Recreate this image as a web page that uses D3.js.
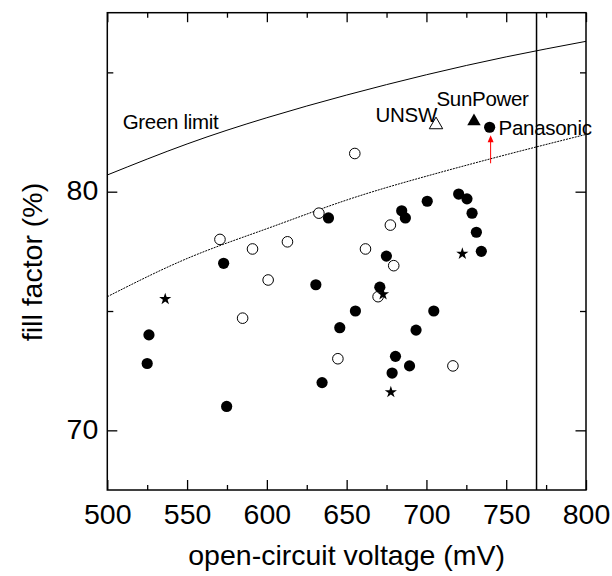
<!DOCTYPE html>
<html>
<head>
<meta charset="utf-8">
<script src="https://cdn.jsdelivr.net/npm/d3@7"></script>
<style>
  html, body { margin: 0; padding: 0; background: #fff; }
  svg { display: block; font-family: "Liberation Sans", Arial, sans-serif; }
</style>
</head>
<body>
<svg id="chart" width="612" height="576"></svg>
<script>
// Open-circuit voltage (mV) and fill factor (%) of silicon cells
const filledVoc = [526.1, 525.0, 572.9, 574.8, 630.7, 634.6, 638.6, 645.7, 655.5, 670.8, 674.9, 678.5,
                   680.6, 684.5, 686.8, 689.4, 693.5, 700.5, 704.6, 720.2, 725.4, 728.6, 731.3, 734.4];
const filledFF  = [74.0, 72.8, 77.0, 71.0, 76.1, 72.0, 78.9, 74.3, 75.0, 76.0, 77.3, 72.4,
                   73.1, 79.2, 78.9, 72.7, 74.2, 79.6, 75.0, 79.9, 79.7, 79.1, 78.3, 77.5];

const openVoc = [570.6, 584.8, 591.0, 600.8, 612.9, 632.6, 644.5, 655.1, 661.8, 669.7, 677.4, 679.5, 716.6];
const openFF  = [78.0, 74.7, 77.6, 76.3, 77.9, 79.1, 73.0, 81.6, 77.6, 75.6, 78.6, 76.9, 72.7];

const starVoc = [536.3, 672.8, 677.7, 722.5];
const starFF  = [75.5, 75.7, 71.6, 77.4];

// Record devices
const recordNames = ["UNSW", "SunPower", "Panasonic"];
const recordVoc   = [706.0, 729.8, 739.6];
const recordFF    = [82.8, 82.95, 82.7];

// Green's empirical limit and the lower reference curve
const curveVoc = [500, 550, 600, 650, 700, 750, 800];
const greenFF  = [80.7, 82.0, 83.1, 84.05, 84.9, 85.65, 86.3];
const lowerFF  = [75.6, 77.2, 78.45, 79.65, 80.65, 81.55, 82.4];

// Intrinsic Voc limit
const limitVoc = 769;

// Improvement arrow below Panasonic point (fill factor from -> to)
const arrowFF = [81.19, 82.36];

// Axis ticks
const xMajor = [500, 550, 600, 650, 700, 750, 800];
const xMinor = [525, 575, 625, 675, 725, 775];
const yMajor = [70, 80];
const yMinor = [75, 85];

const svg = d3.select("#chart");
const L = 107.3, R = 586, T = 12.7, B = 490;

const x = d3.scaleLinear().domain([500, 800]).range([L, R]);
const y = d3.scaleLinear().domain([67.5, 87.5]).range([B, T]);

const fontTick = 28.5;

// Curves
const line = d3.line().x(d => x(d[0])).y(d => y(d[1])).curve(d3.curveNatural);
svg.append("path")
  .attr("d", line(curveVoc.map((v, i) => [v, greenFF[i]])))
  .attr("fill", "none").attr("stroke", "#000").attr("stroke-width", 1);
svg.append("path")
  .attr("d", line(curveVoc.map((v, i) => [v, lowerFF[i]])))
  .attr("fill", "none").attr("stroke", "#000").attr("stroke-width", 1)
  .attr("stroke-dasharray", "2,1");

// Vertical limit line
svg.append("line")
  .attr("x1", x(limitVoc)).attr("x2", x(limitVoc))
  .attr("y1", T).attr("y2", B)
  .attr("stroke", "#000").attr("stroke-width", 1.5);

// Markers
svg.append("g").selectAll("circle").data(openVoc).join("circle")
  .attr("cx", d => x(d)).attr("cy", (d, i) => y(openFF[i])).attr("r", 5.3)
  .attr("fill", "#fff").attr("stroke", "#000").attr("stroke-width", 1);

svg.append("g").selectAll("circle").data(filledVoc).join("circle")
  .attr("cx", d => x(d)).attr("cy", (d, i) => y(filledFF[i])).attr("r", 5.6)
  .attr("fill", "#000");

const star = d3.symbol().type(d3.symbolStar).size(46);
svg.append("g").selectAll("path").data(starVoc).join("path")
  .attr("d", star)
  .attr("transform", (d, i) => `translate(${x(d)},${y(starFF[i])})`)
  .attr("fill", "#000");

const tri = d3.symbol().type(d3.symbolTriangle).size(78);
// UNSW: open triangle
svg.append("path").attr("d", tri)
  .attr("transform", `translate(${x(recordVoc[0])},${y(recordFF[0])})`)
  .attr("fill", "#fff").attr("stroke", "#000").attr("stroke-width", 1);
// SunPower: filled triangle
svg.append("path").attr("d", tri)
  .attr("transform", `translate(${x(recordVoc[1])},${y(recordFF[1])})`)
  .attr("fill", "#000");
// Panasonic: filled circle
svg.append("circle")
  .attr("cx", x(recordVoc[2])).attr("cy", y(recordFF[2])).attr("r", 5.6)
  .attr("fill", "#000");

// Red arrow
const ax = x(recordVoc[2]) + 1;
const yTail = y(arrowFF[0]), yTip = y(arrowFF[1]);
svg.append("line")
  .attr("x1", ax).attr("x2", ax).attr("y1", yTail).attr("y2", yTip + 6)
  .attr("stroke", "#ff0000").attr("stroke-width", 1);
svg.append("path")
  .attr("d", `M${ax},${yTip} L${ax - 3},${yTip + 7} L${ax + 3},${yTip + 7} Z`)
  .attr("fill", "#ff0000");

// Annotations
const fontLab = 20.5;
svg.append("text").attr("x", 122.7).attr("y", 129.3)
  .attr("font-size", fontLab).attr("letter-spacing", -0.3).text("Green limit");
svg.append("text")
  .attr("x", x(recordVoc[0]) + 1).attr("y", y(recordFF[0]) - 2.5)
  .attr("text-anchor", "end").attr("font-size", fontLab).attr("letter-spacing", -0.3)
  .text(recordNames[0]);
svg.append("text")
  .attr("x", x(recordVoc[1]) - 37.5).attr("y", y(recordFF[1]) - 15)
  .attr("font-size", fontLab).attr("letter-spacing", -0.3)
  .text(recordNames[1]);
svg.append("text")
  .attr("x", x(recordVoc[2]) + 9).attr("y", y(recordFF[2]) + 7.5)
  .attr("font-size", fontLab).attr("letter-spacing", -0.3)
  .text(recordNames[2]);

// Axes with inward ticks
function styleAxis(g) {
  g.select(".domain").remove();
  g.selectAll("line").attr("stroke", "#000").attr("stroke-width", 1.3);
}

svg.append("g").attr("transform", `translate(0,${B})`)
  .call(d3.axisBottom(x).tickValues(xMajor).tickSize(-10).tickFormat(d3.format("d")))
  .call(styleAxis)
  .call(g => g.selectAll("text").attr("y", 0).attr("dy", 0).attr("transform", "translate(0,34)")
    .attr("font-size", fontTick).attr("font-family", null).attr("fill", "#000"));
svg.append("g").attr("transform", `translate(0,${B})`)
  .call(d3.axisBottom(x).tickValues(xMinor).tickSize(-5).tickFormat(""))
  .call(styleAxis);
svg.append("g").attr("transform", `translate(0,${T})`)
  .call(d3.axisTop(x).tickValues(xMajor).tickSize(-9.5).tickFormat(""))
  .call(styleAxis);
svg.append("g").attr("transform", `translate(0,${T})`)
  .call(d3.axisTop(x).tickValues(xMinor).tickSize(-5).tickFormat(""))
  .call(styleAxis);

svg.append("g").attr("transform", `translate(${L},0)`)
  .call(d3.axisLeft(y).tickValues(yMajor).tickSize(-10).tickFormat(d3.format("d")))
  .call(styleAxis)
  .call(g => g.selectAll("text").attr("x", 0).attr("dy", 0)
    .attr("transform", "translate(-9,8)")
    .attr("font-size", fontTick).attr("font-family", null).attr("fill", "#000"));
svg.append("g").attr("transform", `translate(${L},0)`)
  .call(d3.axisLeft(y).tickValues(yMinor).tickSize(-6).tickFormat(""))
  .call(styleAxis);
svg.append("g").attr("transform", `translate(${R},0)`)
  .call(d3.axisRight(y).tickValues(yMajor).tickSize(-10.5).tickFormat(""))
  .call(styleAxis);
svg.append("g").attr("transform", `translate(${R},0)`)
  .call(d3.axisRight(y).tickValues(yMinor).tickSize(-6).tickFormat(""))
  .call(styleAxis);

// Frame
svg.append("rect")
  .attr("x", L).attr("y", T).attr("width", R - L).attr("height", B - T)
  .attr("fill", "none").attr("stroke", "#000").attr("stroke-width", 1.5);

// Axis titles
svg.append("text")
  .attr("x", (L + R) / 2).attr("y", 565)
  .attr("text-anchor", "middle").attr("font-size", 28.5)
  .text("open-circuit voltage (mV)");
svg.append("text")
  .attr("transform", "translate(42,262) rotate(-90)")
  .attr("text-anchor", "middle").attr("font-size", 28.5)
  .text("fill factor (%)");
</script>
</body>
</html>
